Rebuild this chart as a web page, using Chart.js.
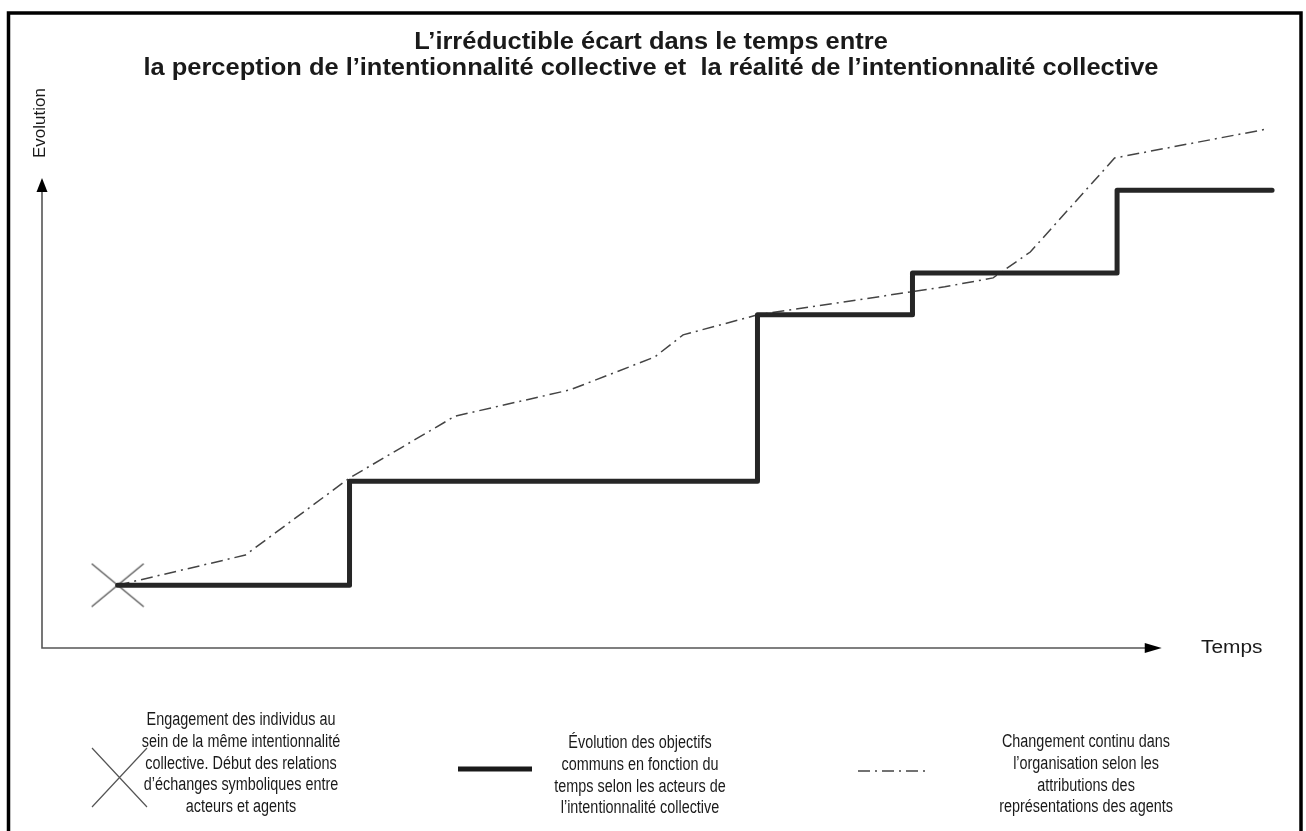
<!DOCTYPE html>
<html>
<head>
<meta charset="utf-8">
<script src="https://cdn.jsdelivr.net/npm/chart.js@4.4.1/dist/chart.umd.min.js"></script>
<style>
  html, body { margin: 0; padding: 0; background: #fff; }
  #wrap { width: 1306px; height: 831px; }
</style>
</head>
<body>
<div id="wrap"><canvas id="gapChart" width="1306" height="831"></canvas></div>
<script>
// Step line: common objectives as seen by the actors (time, level)
const stepTimes = [6.1, 24.8, 57.7, 70.2, 86.7, 99.2];
const stepLevels = [11.9, 31.6, 63.1, 71.0, 86.7, 86.7];

// Dash-dot line: continuous change in the organisation
const changeTimes = [6.1, 16.4, 24.8, 33.3, 42.6, 49.4, 51.7, 57.7, 72.8, 76.7, 79.7, 86.5, 98.8];
const changeLevels = [11.9, 17.6, 32.2, 43.9, 48.9, 55.1, 59.3, 63.1, 68.4, 70.1, 75.0, 92.8, 98.3];

// Starting point (engagement)
const startTimes = [6.1];
const startLevels = [11.9];

// Where the axis arrows stop
const xArrowEnd = 90.3;
const yArrowEnd = 89.0;

const titleLines = [
    'L\u2019irréductible écart dans le temps entre',
    'la perception de l\u2019intentionnalité collective et  la réalité de l\u2019intentionnalité collective'
];
const xLabel = 'Temps';
const yLabel = 'Evolution';
const legendStart = ['Engagement des individus au', 'sein de la même intentionnalité', 'collective. Début des relations', 'd\u2019échanges symboliques entre', 'acteurs et agents'];
const legendStep = ['Évolution des objectifs', 'communs en fonction du', 'temps selon les acteurs de', 'l\u2019intentionnalité collective'];
const legendChange = ['Changement continu dans', 'l\u2019organisation selon les', 'attributions des', 'représentations des agents'];

const FONT = "'Liberation Sans', Arial, sans-serif";
const TEXT = '#1a1a1a';

const toPoints = (xs, ys) => xs.map((x, i) => ({ x: x, y: ys[i] }));

// X shaped marker as an image point style
function makeCross(w, h, color, lw) {
    const c = document.createElement('canvas');
    c.width = w; c.height = h;
    const g = c.getContext('2d');
    g.strokeStyle = color;
    g.lineWidth = lw;
    g.beginPath();
    g.moveTo(1, 1); g.lineTo(w - 1, h - 1);
    g.moveTo(w - 1, 1); g.lineTo(1, h - 1);
    g.stroke();
    return c;
}

function drawText(ctx, s, x, y, font, sx, align) {
    ctx.save();
    ctx.translate(x, y);
    ctx.scale(sx, 1);
    ctx.font = font;
    ctx.fillStyle = TEXT;
    ctx.textAlign = align || 'center';
    ctx.textBaseline = 'middle';
    ctx.fillText(s, 0, 0);
    ctx.restore();
}

const decor = {
    id: 'decor',
    beforeDraw(chart) {
        const ctx = chart.ctx;
        ctx.save();
        ctx.fillStyle = '#fff';
        ctx.fillRect(0, 0, chart.width, chart.height);
        // frame
        ctx.strokeStyle = '#000';
        ctx.lineWidth = 3.5;
        ctx.strokeRect(8.5, 13, 1292.5, 840);

        // axes with arrows
        const xs = chart.scales.x, ys = chart.scales.y;
        const x0 = xs.getPixelForValue(0), y0 = ys.getPixelForValue(0);
        const xe = xs.getPixelForValue(xArrowEnd), ye = ys.getPixelForValue(yArrowEnd);
        ctx.strokeStyle = '#555';
        ctx.lineWidth = 1.6;
        ctx.beginPath();
        ctx.moveTo(x0, ye + 12);
        ctx.lineTo(x0, y0);
        ctx.lineTo(xe - 14, y0);
        ctx.stroke();
        ctx.fillStyle = '#000';
        ctx.beginPath();
        ctx.moveTo(x0, ye); ctx.lineTo(x0 - 5.5, ye + 14); ctx.lineTo(x0 + 5.5, ye + 14); ctx.closePath();
        ctx.fill();
        ctx.beginPath();
        ctx.moveTo(xe, y0); ctx.lineTo(xe - 17, y0 - 5); ctx.lineTo(xe - 17, y0 + 5); ctx.closePath();
        ctx.fill();

        // axis labels
        drawText(ctx, xLabel, 1201, 648, '18px ' + FONT, 1.16, 'left');
        ctx.save();
        ctx.translate(40, 123);
        ctx.rotate(-Math.PI / 2);
        drawText(ctx, yLabel, 0, 0, '17px ' + FONT, 1, 'center');
        ctx.restore();

        // title
        drawText(ctx, titleLines[0], 651, 42, 'bold 24px ' + FONT, 1.06, 'center');
        drawText(ctx, titleLines[1], 651, 68, 'bold 24px ' + FONT, 1.06, 'center');

        // legend
        const lf = '18px ' + FONT;
        legendStart.forEach((s, i) => drawText(ctx, s, 241, 720 + i * 21.8, lf, 0.8));
        legendStep.forEach((s, i) => drawText(ctx, s, 640, 743 + i * 21.8, lf, 0.8));
        legendChange.forEach((s, i) => drawText(ctx, s, 1086, 742 + i * 21.8, lf, 0.8));

        ctx.strokeStyle = '#555';
        ctx.lineWidth = 1.2;
        ctx.beginPath();
        ctx.moveTo(92, 748); ctx.lineTo(147, 807);
        ctx.moveTo(147, 748); ctx.lineTo(92, 807);
        ctx.stroke();

        ctx.strokeStyle = '#1a1a1a';
        ctx.lineWidth = 5;
        ctx.beginPath();
        ctx.moveTo(458, 769); ctx.lineTo(532, 769);
        ctx.stroke();

        ctx.strokeStyle = '#444';
        ctx.lineWidth = 1.5;
        ctx.setLineDash([12, 5, 2, 5]);
        ctx.beginPath();
        ctx.moveTo(858, 771); ctx.lineTo(925, 771);
        ctx.stroke();
        ctx.restore();
    }
};

new Chart(document.getElementById('gapChart'), {
    type: 'line',
    data: {
        datasets: [
            {
                label: 'Évolution des objectifs communs',
                data: toPoints(stepTimes, stepLevels),
                stepped: true,
                borderColor: '#262626',
                borderWidth: 5,
                borderJoinStyle: 'round',
                borderCapStyle: 'round',
                pointRadius: 0
            },
            {
                label: 'Changement continu',
                data: toPoints(changeTimes, changeLevels),
                borderColor: '#444',
                borderWidth: 1.5,
                borderDash: [12, 5, 2, 5],
                tension: 0,
                pointRadius: 0
            },
            {
                label: 'Engagement',
                data: toPoints(startTimes, startLevels),
                showLine: false,
                pointStyle: makeCross(54, 45, '#555', 1.3),
                pointRadius: 20
            }
        ]
    },
    options: {
        responsive: false,
        animation: false,
        layout: { padding: { left: 42, right: 24, top: 120, bottom: 183 } },
        plugins: {
            legend: { display: false },
            tooltip: { enabled: false }
        },
        scales: {
            x: { type: 'linear', min: 0, max: 100, display: false },
            y: { min: 0, max: 100, display: false }
        },
        elements: { line: { fill: false } }
    },
    plugins: [decor]
});
</script>
</body>
</html>
